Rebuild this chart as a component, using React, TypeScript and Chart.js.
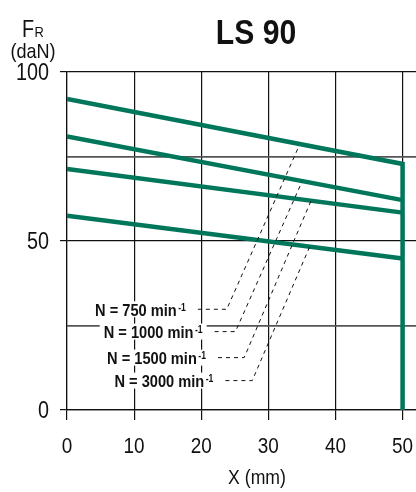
import React, { useEffect, useRef } from 'react';
import { Chart, registerables } from 'chart.js';

Chart.register(...registerables);

const FONT = "'Liberation Sans', Arial, sans-serif";
const GREEN = '#00765a';
const SQUEEZE = 0.86;

const xTickValues = [0, 10, 20, 30, 40, 50];
const xTickLabels = ['0', '10', '20', '30', '40', '50'];
const yTickValues = [0, 25, 50, 75, 100];
const yTickLabels = ['0', '', '50', '', '100'];

const curveX = [0, 50];
const curve750 = [92, 72.8];
const curve1000 = [80.9, 62.1];
const curve1500 = [71.3, 58.4];
const curve3000 = [57.5, 44.8];
const limitX = 50;
const limitY = [72.8, 0];

const speedLabels = ['N = 750 min', 'N = 1000 min', 'N = 1500 min', 'N = 3000 min'];
const leaderStartX = [19.5, 22.0, 22.5, 23.6];
const leaderCornerX = [23.8, 25.1, 26.4, 27.6];
const leaderY = [29.8, 23.2, 15.5, 8.7];
const leaderTopX = [34.5, 35.0, 36.4, 36.2];
const leaderTopY = [77.8, 67.5, 62.1, 48.5];

const curves = [curve750, curve1000, curve1500, curve3000];

function squeezedText(
  ctx: CanvasRenderingContext2D,
  text: string,
  x: number,
  y: number,
  font: string,
  align: 'left' | 'center' | 'right',
  baseline: CanvasTextBaseline = 'alphabetic'
) {
  ctx.save();
  ctx.font = font;
  ctx.textAlign = align;
  ctx.textBaseline = baseline;
  ctx.translate(x, y);
  ctx.scale(SQUEEZE, 1);
  ctx.fillText(text, 0, 0);
  ctx.restore();
}

function measure(ctx: CanvasRenderingContext2D, text: string, font: string) {
  ctx.save();
  ctx.font = font;
  const w = ctx.measureText(text).width * SQUEEZE;
  ctx.restore();
  return w;
}

const overlay = {
  id: 'overlay',
  afterDraw(chart: any) {
    const { ctx, scales } = chart;
    const x = scales.x;
    const y = scales.y;
    ctx.save();
    ctx.fillStyle = '#111111';

    // x tick labels
    xTickValues.forEach((v, i) => {
      squeezedText(ctx, xTickLabels[i], x.getPixelForValue(v), y.bottom + 43, `22px ${FONT}`, 'center');
    });
    // y tick labels
    yTickValues.forEach((v, i) => {
      if (!yTickLabels[i]) return;
      squeezedText(ctx, yTickLabels[i], x.left - 18, y.getPixelForValue(v) + 8, `23px ${FONT}`, 'right');
    });

    // speed labels
    const mainFont = `bold 17px ${FONT}`;
    const supFont = `bold 10px ${FONT}`;
    speedLabels.forEach((t, i) => {
      const right = x.getPixelForValue(leaderStartX[i]) - 12;
      const cy = y.getPixelForValue(leaderY[i]);
      const w1 = measure(ctx, t, mainFont);
      const w2 = measure(ctx, '-1', supFont);
      const total = w1 + 1.5 + w2;
      const left = right - total;
      ctx.fillStyle = '#ffffff';
      ctx.fillRect(left - 4, cy - 8, total + 8, 16);
      ctx.fillStyle = '#111111';
      squeezedText(ctx, t, left, cy + 6.4, mainFont, 'left');
      squeezedText(ctx, '-1', left + w1 + 1.5, cy + 1.8, supFont, 'left');
    });

    // title
    squeezedText(ctx, 'LS 90', 256, 43.5, `bold 35px ${FONT}`, 'center');
    // y axis title
    const fFont = `23px ${FONT}`;
    squeezedText(ctx, 'F', 22, 36.5, fFont, 'left');
    const fw = measure(ctx, 'F', fFont);
    squeezedText(ctx, 'R', 22 + fw + 0.5, 36.5, `15px ${FONT}`, 'left');
    squeezedText(ctx, '(daN)', 33, 57.5, `21px ${FONT}`, 'center');
    // x axis title
    squeezedText(ctx, 'X (mm)', 257, 484, `20.5px ${FONT}`, 'center');
    ctx.restore();
  },
};

export default function App() {
  const ref = useRef<HTMLCanvasElement | null>(null);

  useEffect(() => {
    document.body.style.margin = '0';
    if (!ref.current) return;

    const curveSets = curves.map((c, i) => ({
      label: speedLabels[i],
      data: i === 0
        ? [
            { x: curveX[0], y: c[0] },
            { x: curveX[1], y: c[1] },
            { x: limitX, y: limitY[1] },
          ]
        : curveX.map((xv, k) => ({ x: xv, y: c[k] })),
      borderColor: GREEN,
      borderWidth: 4.5,
      borderJoinStyle: 'miter' as const,
      pointRadius: 0,
      fill: false,
      tension: 0,
    }));

    const leaderSets = speedLabels.map((t, i) => ({
      label: t + ' leader',
      data: [
        { x: leaderStartX[i], y: leaderY[i] },
        { x: leaderCornerX[i], y: leaderY[i] },
        { x: leaderTopX[i], y: leaderTopY[i] },
      ],
      borderColor: '#111111',
      borderWidth: 1,
      borderDash: [4, 4],
      pointRadius: 0,
      fill: false,
      tension: 0,
    }));

    const chart = new Chart(ref.current, {
      type: 'line',
      data: { datasets: [...leaderSets, ...curveSets] as any },
      options: {
        animation: false,
        responsive: false,
        devicePixelRatio: 1,
        layout: { padding: { top: 72, left: 0, right: 0, bottom: 0 } },
        plugins: {
          legend: { display: false },
          tooltip: { enabled: false },
          title: { display: false },
        },
        scales: {
          x: {
            type: 'linear',
            min: 0,
            max: 52,
            afterFit: (s: any) => {
              s.height = 82;
              s.paddingLeft = 0;
              s.paddingRight = 0;
            },
            afterBuildTicks: (s: any) => { s.ticks = xTickValues.map((v) => ({ value: v })); },
            ticks: { display: false, autoSkip: false },
            grid: {
              color: '#111111',
              lineWidth: 1.2,
              tickLength: 10,
              tickColor: '#111111',
            },
            border: { display: true, color: '#111111', width: 1.2 },
          },
          y: {
            type: 'linear',
            min: 0,
            max: 100,
            afterFit: (s: any) => {
              s.width = 67;
              s.paddingTop = 0;
              s.paddingBottom = 0;
            },
            afterBuildTicks: (s: any) => { s.ticks = yTickValues.map((v) => ({ value: v })); },
            ticks: { display: false, autoSkip: false },
            grid: {
              color: (c: any) => (c.tick && (c.tick.value === 25 || c.tick.value === 75) ? '#555555' : '#111111'),
              lineWidth: (c: any) => (c.tick && (c.tick.value === 25 || c.tick.value === 75) ? 1.8 : 1.2),
              tickColor: (c: any) => (c.tick && (c.tick.value === 25 || c.tick.value === 75) ? 'rgba(0,0,0,0)' : '#111111'),
              tickLength: 7,
            },
            border: { display: true, color: '#111111', width: 1.2 },
          },
        },
      },
      plugins: [overlay],
    });

    return () => chart.destroy();
  }, []);

  return (
    <div style={{ width: 416, height: 492 }}>
      <canvas ref={ref} width={416} height={492} style={{ display: 'block', width: 416, height: 492 }} />
    </div>
  );
}
